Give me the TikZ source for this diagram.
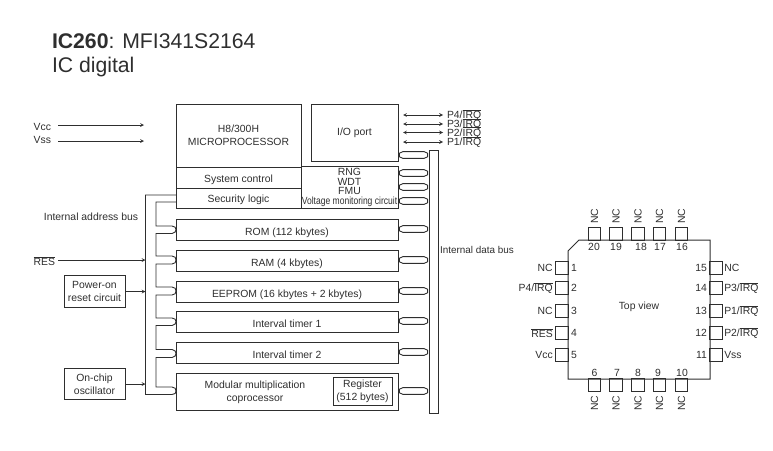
\documentclass[tikz,border=0pt]{standalone}
\usepackage{amsmath}
\usepackage{fontspec}
\usepackage{graphicx}
\setmainfont{Liberation Sans}
\definecolor{ink}{HTML}{2E2E2E}
\newcommand{\ovl}[1]{\ensuremath{\overline{\mbox{#1}}}}
\tikzset{
  blockbox/.style={draw=ink, line width=1pt, inner sep=0pt, outer sep=0pt, align=center},
  rowbox/.style={blockbox, minimum width=222pt, minimum height=21pt, text height=11pt, text depth=0pt},
  sidebox/.style={blockbox, minimum width=61pt, minimum height=31.5pt},
  pinbox/.style={draw=ink, line width=1pt, inner sep=0pt, outer sep=0pt, minimum size=12.5pt},
  txt/.style={inner sep=0pt, outer sep=0pt, text=ink},
  sigline/.style={draw=ink, line width=.7pt, >=stealth},
  busline/.style={draw=ink, line width=.9pt},
  busstub/.style={busline, rounded corners=2pt, to path={
    (\tikztostart) -- ([shift={(3,-3.4)}]\tikztostart) -- ([shift={(-3,-3.4)}]\tikztotarget)
    -- (\tikztotarget) -- ([shift={(-3,3.4)}]\tikztotarget) -- ([shift={(3,3.4)}]\tikztostart) -- cycle}}
}
\begin{document}
\begin{tikzpicture}[x=1pt, y=-1pt, font=\fontsize{10.4}{13.2}\selectfont, text=ink]
\useasboundingbox (0,0) rectangle (773,450);

% heading
\node[txt, anchor=west, font=\fontsize{21.2}{26}\selectfont] (title) at (52,41) {\textbf{IC260}: MFI341S2164};
\node[txt, anchor=west, font=\fontsize{21.2}{26}\selectfont] (subtitle) at (52,67) {IC digital};

% blocks
\node[blockbox, minimum width=125pt, minimum height=63pt] (cpu) at (238.5,135.5) {H8/300H\\MICROPROCESSOR};
\node[blockbox, minimum width=125pt, minimum height=21pt, text height=9pt, text depth=0pt] (sysctl) at (238.5,177.5) {System control};
\node[blockbox, minimum width=125pt, minimum height=20pt, text height=9pt, text depth=0pt] (seclogic) at (238.5,198) {Security logic};
\node[blockbox, minimum width=87pt, minimum height=57pt] (io) at (354.5,132.5) {I/O port};
\node[blockbox, minimum width=97pt, minimum height=42pt, font=\fontsize{10.4}{9.7}\selectfont] (rng) at (349.5,187.5)
  {RNG\\WDT\\FMU\\\scalebox{.82}[1]{Voltage monitoring circuit}};
\node[rowbox] (rom) at (287,229.5) {ROM (112 kbytes)};
\node[rowbox] (ram) at (287,260.5) {RAM (4 kbytes)};
\node[rowbox] (eeprom) at (287,291.5) {EEPROM (16 kbytes + 2 kbytes)};
\node[rowbox] (timera) at (287,321.5) {Interval timer 1};
\node[rowbox] (timerb) at (287,352.5) {Interval timer 2};
\node[blockbox, minimum width=222pt, minimum height=37pt] (modmul) at (287,391.5) {};
\node[txt, align=center] (modtext) at (255,392) {Modular multiplication\\coprocessor};
\node[blockbox, minimum width=59pt, minimum height=28pt] (reg) at (362.5,391) {Register\\(512 bytes)};
\node[blockbox, minimum width=9pt, minimum height=263pt] (databus) at (433.5,281.5) {};
\node[sidebox] (poweron) at (94.5,291.5) {Power-on\\reset circuit};
\node[sidebox] (osc) at (94.5,384) {On-chip\\oscillator};

% labels
\node[txt, anchor=east] (vcc) at (51,127) {Vcc};
\node[txt, anchor=east] (vss) at (51,139.5) {Vss};
\node[txt, anchor=east] (res) at (55,261) {\ovl{RES}};
\node[txt] (addrlabel) at (91,217) {Internal address bus};
\node[txt, anchor=west, font=\fontsize{9.9}{13}\selectfont] (datalabel) at (440,250) {Internal data bus};
\coordinate (addr) at (145.5,195);
\coordinate (vccin) at (58,125);
\coordinate (vssin) at (58,141);
\coordinate (resin) at (58,260);
\coordinate (vccend) at (144,125);
\coordinate (vssend) at (144,141);

% inputs
\draw[sigline,->] (vccin) -- (vccend);
\draw[sigline,->] (vssin) -- (vssend);
\draw[sigline,->] (resin) -- (resin -| addr);
\draw[sigline,->] (poweron.east) -- (poweron.east -| addr);
\draw[sigline,->] (osc.east) -- (osc.east -| addr);

% port lines
\foreach \n/\y/\t in {a/115/P4, b/124/P3, c/132.5/P2, d/142/P1} {
  \node[txt, anchor=west] (port\n) at (447,\y) {\t/\ovl{IRQ}};
  \draw[sigline,<->] (io.east |- port\n.west) ++(5,0) -- ([xshift=-4pt]port\n.west);
}

% data bus stubs
\foreach \src/\y in {io/155, rng/173, rng/187, rng/201, rom/229, ram/260, eeprom/291, timera/321, timerb/352, modmul/391} {
  \coordinate (stubl) at (\src.east |- 0,\y);
  \coordinate (stubr) at (databus.west |- 0,\y);
  \draw[busstub] (stubl) to (stubr);
}

% address bus
\draw[busline] (seclogic.west |- addr) -- (addr) -- (145.5,394.5) -- (172,394.5) .. controls (175,394.5) and (176,393) .. (176,391)
  .. controls (176,389) and (175,387) .. (172,387) -- (156,387) -- (156,357.5) -- (172,357.5)
  .. controls (175,357.5) and (176,355) .. (176,353.5) .. controls (176,352) and (175,349.5) .. (172,349.5) -- (156,349.5)
  -- (156,325.5) -- (172,325.5) .. controls (175,325.5) and (176,323) .. (176,321.5) .. controls (176,320) and (175,318) .. (172,318) -- (156,318)
  -- (156,295) -- (172,295) .. controls (175,295) and (176,293) .. (176,291) .. controls (176,289) and (175,287) .. (172,287) -- (156,287)
  -- (156,264) -- (172,264) .. controls (175,264) and (176,262) .. (176,260) .. controls (176,258) and (175,256) .. (172,256) -- (156,256)
  -- (156,233.5) -- (172,233.5) .. controls (175,233.5) and (176,231) .. (176,229.5) .. controls (176,228) and (175,226) .. (172,226) -- (156,226)
  -- (156,202) -- (seclogic.west |- 0,202);

% chip
\draw[draw=ink, line width=1pt] (568,251) -- (579,240) -- (710,240) -- (710,379) -- (568,379) -- cycle;
\node[txt] (topview) at (639,307) {Top view};

\foreach \n/\x/\m in {20/594.5/594, 19/616/616, 18/638/641, 17/659.5/660, 16/681.5/682} {
  \node[pinbox] (pin\n) at (\x,234) {};
  \node[txt] (num\n) at (\m,247) {\n};
  \node[txt, rotate=90] (nc\n) at (\x,216) {NC};
}
\foreach \n/\x/\m in {6/594.5/594.5, 7/616/617, 8/638/638, 9/659.5/658, 10/681.5/682} {
  \node[pinbox] (pin\n) at (\x,385) {};
  \node[txt] (num\n) at (\m,373) {\n};
  \node[txt, rotate=90] (nc\n) at (\x,403) {NC};
}
\foreach \n/\y/\t in {1/268/NC, 2/288/{P4/\ovl{IRQ}}, 3/311/NC, 4/333/\ovl{RES}, 5/355/Vcc} {
  \node[pinbox] (pin\n) at (562,\y) {};
  \node[txt, anchor=west] (num\n) at (571,\y) {\n};
  \node[txt, anchor=east] (lab\n) at ([xshift=-3pt]pin\n.west) {\t};
}
\foreach \n/\y/\t in {15/268/NC, 14/288/{P3/\ovl{IRQ}}, 13/311/{P1/\ovl{IRQ}}, 12/333/{P2/\ovl{IRQ}}, 11/355/Vss} {
  \node[pinbox] (pin\n) at (716,\y) {};
  \node[txt, anchor=east] (num\n) at (707,\y) {\n};
  \node[txt, anchor=west] (lab\n) at ([xshift=2pt]pin\n.east) {\t};
}
\end{tikzpicture}
\end{document}
